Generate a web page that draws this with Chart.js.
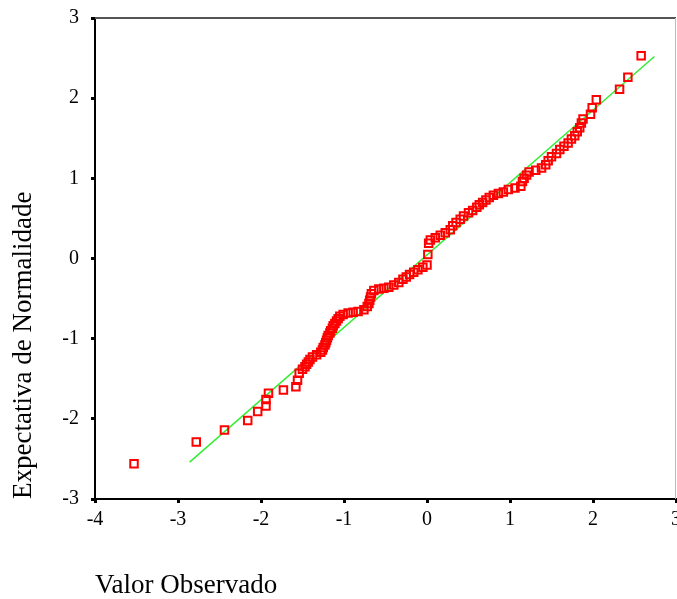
<!DOCTYPE html>
<html>
<head>
<meta charset="utf-8">
<script src="https://cdn.jsdelivr.net/npm/chart.js@4.4.1/dist/chart.umd.min.js"></script>
<style>
  body { margin: 0; background: #fff; }
  canvas { display: block; }
</style>
</head>
<body>
<canvas id="qq" width="677" height="599"></canvas>
<script>
// Observed values (x) and expected normal values (y)
const observed = [
  -3.53, -2.78, -2.44, -2.16, -2.04, -1.94, -1.94, -1.91, -1.73, -1.58,
  -1.56, -1.54, -1.50, -1.47, -1.45, -1.43, -1.41, -1.38, -1.33, -1.28,
  -1.26, -1.25, -1.23, -1.22, -1.21, -1.20, -1.19, -1.17, -1.16, -1.14,
  -1.13, -1.11, -1.09, -1.07, -1.05, -1.01, -0.95, -0.89, -0.83, -0.76,
  -0.72, -0.70, -0.69, -0.68, -0.67, -0.64, -0.58, -0.52, -0.46, -0.40,
  -0.34, -0.29, -0.25, -0.21, -0.16, -0.11, -0.05, 0.00, 0.01, 0.02,
  0.04, 0.10, 0.16, 0.22, 0.28, 0.31, 0.35, 0.40, 0.44, 0.50,
  0.55, 0.60, 0.63, 0.67, 0.71, 0.75, 0.80, 0.86, 0.92, 0.98,
  1.06, 1.13, 1.15, 1.17, 1.20, 1.23, 1.31, 1.38, 1.43, 1.46,
  1.50, 1.56, 1.60, 1.65, 1.70, 1.74, 1.78, 1.81, 1.84, 1.86,
  1.88, 1.97, 1.99, 2.04, 2.32, 2.42, 2.58
];
const expected = [
  -2.56, -2.29, -2.14, -2.02, -1.91, -1.84, -1.76, -1.68, -1.64, -1.60,
  -1.52, -1.43, -1.38, -1.35, -1.32, -1.29, -1.26, -1.23, -1.20, -1.17,
  -1.14, -1.11, -1.08, -1.05, -1.02, -0.99, -0.96, -0.93, -0.90, -0.87,
  -0.84, -0.81, -0.78, -0.75, -0.72, -0.70, -0.68, -0.67, -0.66, -0.64,
  -0.60, -0.56, -0.52, -0.48, -0.44, -0.40, -0.38, -0.37, -0.36, -0.33,
  -0.30, -0.26, -0.23, -0.20, -0.17, -0.14, -0.11, -0.08, 0.05, 0.19,
  0.23, 0.26, 0.29, 0.32, 0.36, 0.41, 0.45, 0.49, 0.53, 0.57,
  0.60, 0.64, 0.67, 0.70, 0.73, 0.76, 0.79, 0.81, 0.83, 0.86,
  0.88, 0.90, 0.96, 1.00, 1.04, 1.08, 1.10, 1.13, 1.17, 1.22,
  1.27, 1.31, 1.36, 1.40, 1.44, 1.49, 1.53, 1.58, 1.63, 1.69,
  1.74, 1.80, 1.88, 1.98, 2.11, 2.26, 2.53
];

// Reference line end points
const lineX = [-2.86, 2.74];
const lineY = [-2.54, 2.52];

const xTicks = [-4, -3, -2, -1, 0, 1, 2, 3];
const yTicks = [-3, -2, -1, 0, 1, 2, 3];

const points = observed.map((x, i) => ({ x: x, y: expected[i] }));
const linePts = lineX.map((x, i) => ({ x: x, y: lineY[i] }));

// top and right frame lines
const framePlugin = {
  id: 'frame',
  afterDraw(chart) {
    const { ctx, chartArea: a } = chart;
    ctx.save();
    ctx.strokeStyle = '#555';
    ctx.lineWidth = 2;
    ctx.beginPath();
    ctx.moveTo(a.left, a.top);
    ctx.lineTo(a.right, a.top);
    ctx.stroke();
    ctx.strokeStyle = '#bbb';
    ctx.lineWidth = 1;
    ctx.beginPath();
    ctx.moveTo(a.right - 0.5, a.top);
    ctx.lineTo(a.right - 0.5, a.bottom);
    ctx.stroke();
    ctx.restore();
  }
};

const tickFont = { family: 'Liberation Serif', size: 20 };
const titleFont = { family: 'Liberation Serif', size: 27, lineHeight: 1 };

new Chart(document.getElementById('qq'), {
  type: 'scatter',
  data: {
    datasets: [
      {
        data: linePts,
        showLine: true,
        borderColor: '#33ee33',
        borderWidth: 1.5,
        pointRadius: 0,
        order: 2
      },
      {
        data: points,
        pointStyle: 'rect',
        pointRadius: 5.3,
        pointBorderWidth: 2,
        pointBorderColor: '#ff0000',
        pointBackgroundColor: 'rgba(0,0,0,0)',
        order: 1
      }
    ]
  },
  options: {
    responsive: false,
    animation: false,
    layout: { autoPadding: false, padding: { top: 18, right: 1, left: 0, bottom: 0 } },
    plugins: { legend: { display: false }, tooltip: { enabled: false } },
    scales: {
      x: {
        type: 'linear',
        min: -4,
        max: 3,
        afterBuildTicks: s => { s.ticks = xTicks.map(v => ({ value: v })); },
        afterFit: s => { s.height = 100; s.paddingLeft = 0; s.paddingRight = 0; },
        ticks: { color: '#000', font: tickFont, padding: 5, maxRotation: 0 },
        grid: { drawOnChartArea: false, tickLength: 4, tickWidth: 3, tickColor: '#000' },
        border: { color: '#000', width: 2 },
        title: {
          display: true,
          text: 'Valor Observado',
          align: 'start',
          color: '#000',
          font: titleFont,
          padding: { bottom: 0 }
        }
      },
      y: {
        type: 'linear',
        min: -3,
        max: 3,
        afterBuildTicks: s => { s.ticks = yTicks.map(v => ({ value: v })); },
        afterFit: s => { s.width = 95; s.paddingTop = 0; s.paddingBottom = 0; },
        ticks: { color: '#000', font: tickFont, padding: 12 },
        grid: { drawOnChartArea: false, tickLength: 4, tickWidth: 3, tickColor: '#000' },
        border: { color: '#000', width: 2 },
        title: {
          display: true,
          text: 'Expectativa de Normalidade',
          align: 'start',
          color: '#000',
          font: titleFont,
          padding: { top: 10 }
        }
      }
    }
  },
  plugins: [framePlugin]
});
</script>
</body>
</html>
